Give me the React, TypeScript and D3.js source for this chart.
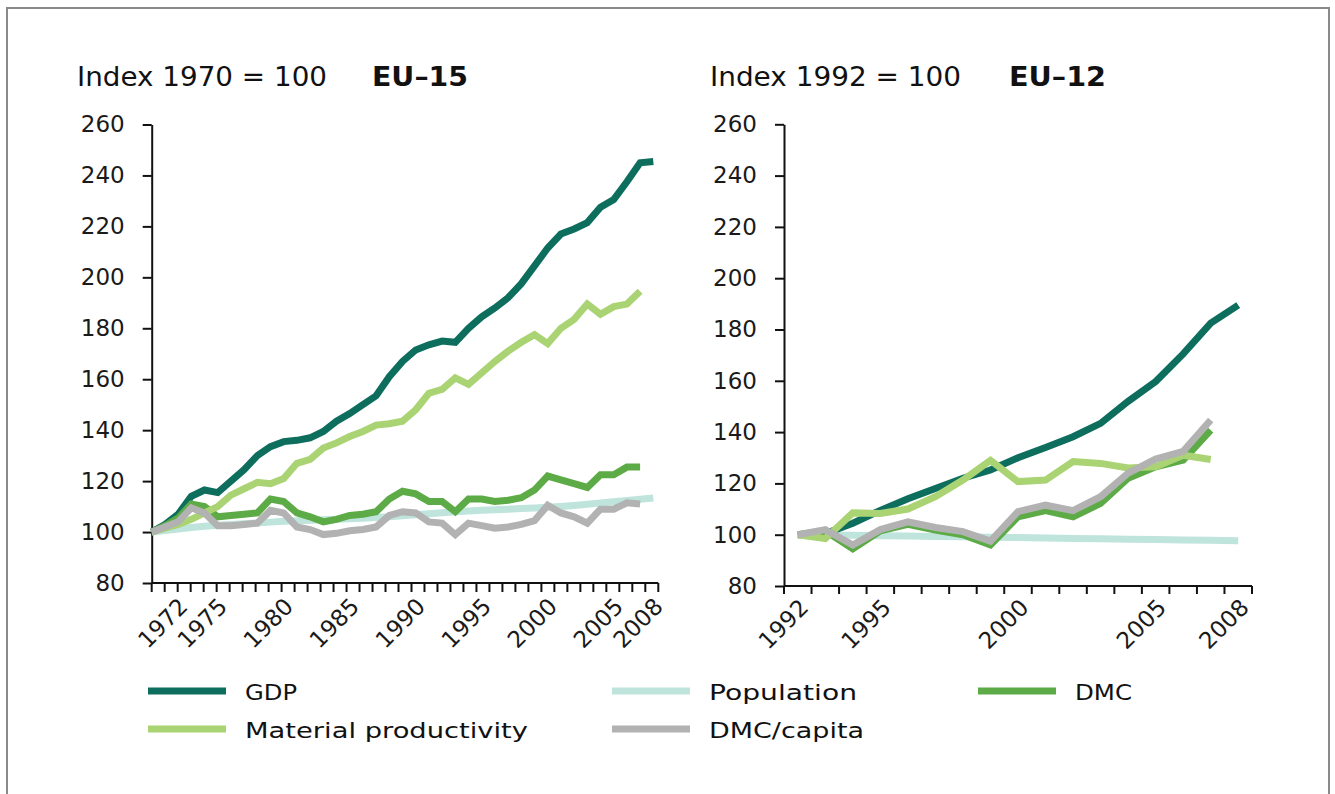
import { useEffect, useRef } from "react";
import * as d3 from "d3";

// EU-15, index 1970 = 100
const years15 = [
  1970, 1971, 1972, 1973, 1974, 1975, 1976, 1977, 1978, 1979,
  1980, 1981, 1982, 1983, 1984, 1985, 1986, 1987, 1988, 1989,
  1990, 1991, 1992, 1993, 1994, 1995, 1996, 1997, 1998, 1999,
  2000, 2001, 2002, 2003, 2004, 2005, 2006, 2007, 2008,
];
const gdp15 = [
  100, 103, 107, 114, 116.5, 115.5, 120, 124.5, 130, 133.5,
  135.5, 136, 137, 139.5, 143.5, 146.5, 150, 153.5, 161, 167,
  171.5, 173.5, 175, 174.5, 180, 184.5, 188, 192, 197.5, 204.5,
  211.5, 217, 219, 221.5, 227.5, 230.5, 237.5, 245, 245.5,
];
const matProd15 = [
  100, 101.5, 103, 105, 107.5, 110, 114.5, 117, 119.5, 119,
  121, 127, 128.5, 133, 135, 137.5, 139.5, 142, 142.5, 143.5,
  148, 154.5, 156, 160.5, 158, 162.5, 167, 171, 174.5, 177.5,
  174, 180, 183.5, 189.5, 185.5, 188.5, 189.5, 194.5,
];
const pop15 = [
  100, 100.6, 101.2, 101.8, 102.3, 102.7, 103.0, 103.3, 103.6, 103.9,
  104.2, 104.4, 104.6, 104.8, 105.0, 105.2, 105.4, 105.7, 106.0, 106.4,
  106.8, 107.2, 107.6, 108.0, 108.3, 108.6, 108.8, 109.0, 109.2, 109.4,
  109.7, 110.0, 110.4, 110.9, 111.4, 111.9, 112.4, 112.9, 113.4,
];
const dmc15 = [
  100, 102.5, 105.5, 111, 110, 106, 106.5, 107, 107.5, 113,
  112, 107.5, 106, 104, 105, 106.5, 107, 108, 113, 116,
  115, 112, 112, 108, 113, 113, 112, 112.5, 113.5, 116.5,
  122, 120.5, 119, 117.5, 122.5, 122.5, 125.5, 125.5,
];
const dmcCap15 = [
  100, 102, 104, 109.5, 107.5, 102.5, 102.5, 103, 103.5, 108.5,
  107.5, 102, 101, 99, 99.5, 100.5, 101, 102, 106.5, 108,
  107.5, 104, 103.5, 99, 103.5, 102.5, 101.5, 102, 103, 104.5,
  110.5, 107.5, 106, 103.5, 109, 109, 111.5, 111,
];
const labels15 = [1972, 1975, 1980, 1985, 1990, 1995, 2000, 2005, 2008];

// EU-12, index 1992 = 100
const years12 = [
  1992, 1993, 1994, 1995, 1996, 1997, 1998, 1999, 2000,
  2001, 2002, 2003, 2004, 2005, 2006, 2007, 2008,
];
const gdp12 = [100, 100.5, 104.5, 109.5, 114, 118, 122, 125.2, 130, 134, 138.2, 143.4, 152, 159.7, 170.5, 182.5, 189.5];
const matProd12 = [100, 98.5, 108.5, 108.3, 110, 114.8, 121.3, 129, 120.7, 121.3, 128.5, 127.8, 126, 126.5, 131, 129.3];
const pop12 = [100, 99.9, 99.8, 99.6, 99.5, 99.3, 99.2, 99.0, 98.9, 98.7, 98.5, 98.4, 98.2, 98.1, 97.9, 97.8, 97.6];
const dmc12 = [100, 101.5, 94.5, 101.5, 104, 101.8, 100, 96, 107, 109.4, 107, 112.2, 122, 126.5, 129.1, 140.8];
const dmcCap12 = [100, 102, 96, 102, 105, 102.8, 101.2, 97.5, 109, 111.5, 109.4, 114.8, 124, 129.5, 132.5, 144.7];
const labels12 = [1992, 1995, 2000, 2005, 2008];

const yTicks = [80, 100, 120, 140, 160, 180, 200, 220, 240, 260];

const colors = {
  gdp: "#0e6e5e",
  matProd: "#aad373",
  pop: "#bfe4dc",
  dmc: "#5cab46",
  dmcCap: "#b2b2b2",
};

const legendItems = [
  { name: "GDP", key: "gdp", col: 0, row: 0, w: 52 },
  { name: "Material productivity", key: "matProd", col: 0, row: 1, w: 283 },
  { name: "Population", key: "pop", col: 1, row: 0, w: 148 },
  { name: "DMC/capita", key: "dmcCap", col: 1, row: 1, w: 155 },
  { name: "DMC", key: "dmc", col: 2, row: 0, w: 57 },
];

const FONT = "'DejaVu Sans', Verdana, sans-serif";
const W = 1335;
const H = 794;

const App = () => {
  const ref = useRef<SVGSVGElement | null>(null);

  useEffect(() => {
    if (!ref.current) return;
    const svg = d3.select(ref.current);
    svg.selectAll("*").remove();

    // frame
    svg.append("path")
      .attr("d", `M7,${H} V8 H1329 V${H}`)
      .attr("fill", "none")
      .attr("stroke", "#8a8a8a")
      .attr("stroke-width", 2);

    const drawYAxis = (y: d3.ScaleLinear<number, number>, x0: number) => {
      const g = svg.append("g").attr("transform", `translate(${x0},0)`);
      g.call(d3.axisLeft(y).tickValues(yTicks).tickSize(9).tickSizeOuter(0).tickPadding(18));
      g.select(".domain").attr("stroke", "#111").attr("stroke-width", 2);
      g.selectAll(".tick line").attr("stroke", "#111").attr("stroke-width", 2);
      g.selectAll(".tick text")
        .attr("font-family", FONT)
        .attr("font-size", 23)
        .attr("fill", "#1a1a1a");
    };

    const drawLine = (pts: [number, number][], color: string) => {
      svg.append("path")
        .attr("d", d3.line()(pts))
        .attr("fill", "none")
        .attr("stroke", color)
        .attr("stroke-width", 7)
        .attr("stroke-linejoin", "miter");
    };

    const xLabel = (px: number, py: number, text: string) => {
      svg.append("text")
        .attr("transform", `translate(${px},${py}) rotate(-45)`)
        .attr("text-anchor", "end")
        .attr("font-family", FONT)
        .attr("font-size", 23)
        .attr("fill", "#1a1a1a")
        .text(text);
    };

    // ---- Left panel: EU-15 ----
    const x15 = d3.scaleLinear().domain([1970, 2008]).range([151.7, 653.3]);
    const tick15 = d3.scaleLinear().domain([0, years15.length]).range([151.7, 658.3]);
    const y15 = d3.scaleLinear().domain([80, 260]).range([583, 124.5]);

    drawYAxis(y15, 151.7);
    const xa15 = svg.append("g");
    xa15.append("line")
      .attr("x1", tick15(0)).attr("x2", tick15(years15.length))
      .attr("y1", y15(80)).attr("y2", y15(80))
      .attr("stroke", "#111").attr("stroke-width", 2);
    xa15.selectAll("line.t")
      .data(d3.range(years15.length + 1))
      .join("line")
      .attr("class", "t")
      .attr("x1", d => tick15(d)).attr("x2", d => tick15(d))
      .attr("y1", y15(80)).attr("y2", y15(80) + 9)
      .attr("stroke", "#111").attr("stroke-width", 2);
    labels15.forEach(yr => xLabel(x15(yr) + 11, y15(80) + 25, String(yr)));

    const series15: [number[], string][] = [
      [pop15, colors.pop],
      [gdp15, colors.gdp],
      [dmc15, colors.dmc],
      [matProd15, colors.matProd],
      [dmcCap15, colors.dmcCap],
    ];
    series15.forEach(([vals, c]) =>
      drawLine(vals.map((v, i) => [x15(years15[i]), y15(v)] as [number, number]), c)
    );

    // ---- Right panel: EU-12 ----
    const x12 = d3.scaleBand<number>().domain(years12).range([784, 1252]).padding(0);
    const cx12 = (yr: number) => x12(yr)! + x12.bandwidth() / 2;
    const y12 = d3.scaleLinear().domain([80, 260]).range([586, 124.3]);

    drawYAxis(y12, 784);
    const xa12 = svg.append("g");
    xa12.append("line")
      .attr("x1", 784).attr("x2", 1252)
      .attr("y1", y12(80)).attr("y2", y12(80))
      .attr("stroke", "#111").attr("stroke-width", 2);
    const bounds12 = [...years12.map(yr => x12(yr)!), x12.range()[1]];
    xa12.selectAll("line.t")
      .data(bounds12)
      .join("line")
      .attr("class", "t")
      .attr("x1", d => d).attr("x2", d => d)
      .attr("y1", y12(80)).attr("y2", y12(80) + 8)
      .attr("stroke", "#111").attr("stroke-width", 2);
    labels12.forEach(yr => xLabel(cx12(yr) + 12, y12(80) + 23, String(yr)));

    const series12: [number[], string][] = [
      [pop12, colors.pop],
      [gdp12, colors.gdp],
      [dmc12, colors.dmc],
      [matProd12, colors.matProd],
      [dmcCap12, colors.dmcCap],
    ];
    series12.forEach(([vals, c]) =>
      drawLine(vals.map((v, i) => [cx12(years12[i]), y12(v)] as [number, number]), c)
    );

    // ---- Titles ----
    const title = (x: number, txt: string, len: number, bold: boolean) => {
      svg.append("text")
        .attr("x", x).attr("y", 86)
        .attr("font-family", FONT)
        .attr("font-size", 26)
        .attr("font-weight", bold ? "bold" : "normal")
        .attr("fill", "#111")
        .attr("textLength", len)
        .attr("lengthAdjust", "spacingAndGlyphs")
        .text(txt);
    };
    title(77, "Index 1970 = 100", 250, false);
    title(372, "EU\u201315", 96, true);
    title(710, "Index 1992 = 100", 251, false);
    title(1009, "EU\u201312", 97, true);

    // ---- Legend ----
    const colX = [148, 612, 978];
    const rowY = [691, 729];
    legendItems.forEach(it => {
      const lx = colX[it.col];
      const ly = rowY[it.row];
      svg.append("line")
        .attr("x1", lx).attr("x2", lx + 78)
        .attr("y1", ly).attr("y2", ly)
        .attr("stroke", (colors as any)[it.key])
        .attr("stroke-width", 7);
      svg.append("text")
        .attr("x", lx + 97).attr("y", ly + 9)
        .attr("font-family", FONT)
        .attr("font-size", 22)
        .attr("fill", "#111")
        .attr("textLength", it.w)
        .attr("lengthAdjust", "spacingAndGlyphs")
        .text(it.name);
    });
  }, []);

  return (
    <svg
      ref={ref}
      width={W}
      height={H}
      style={{ position: "absolute", left: 0, top: 0, background: "#fff" }}
    />
  );
};

export default App;
